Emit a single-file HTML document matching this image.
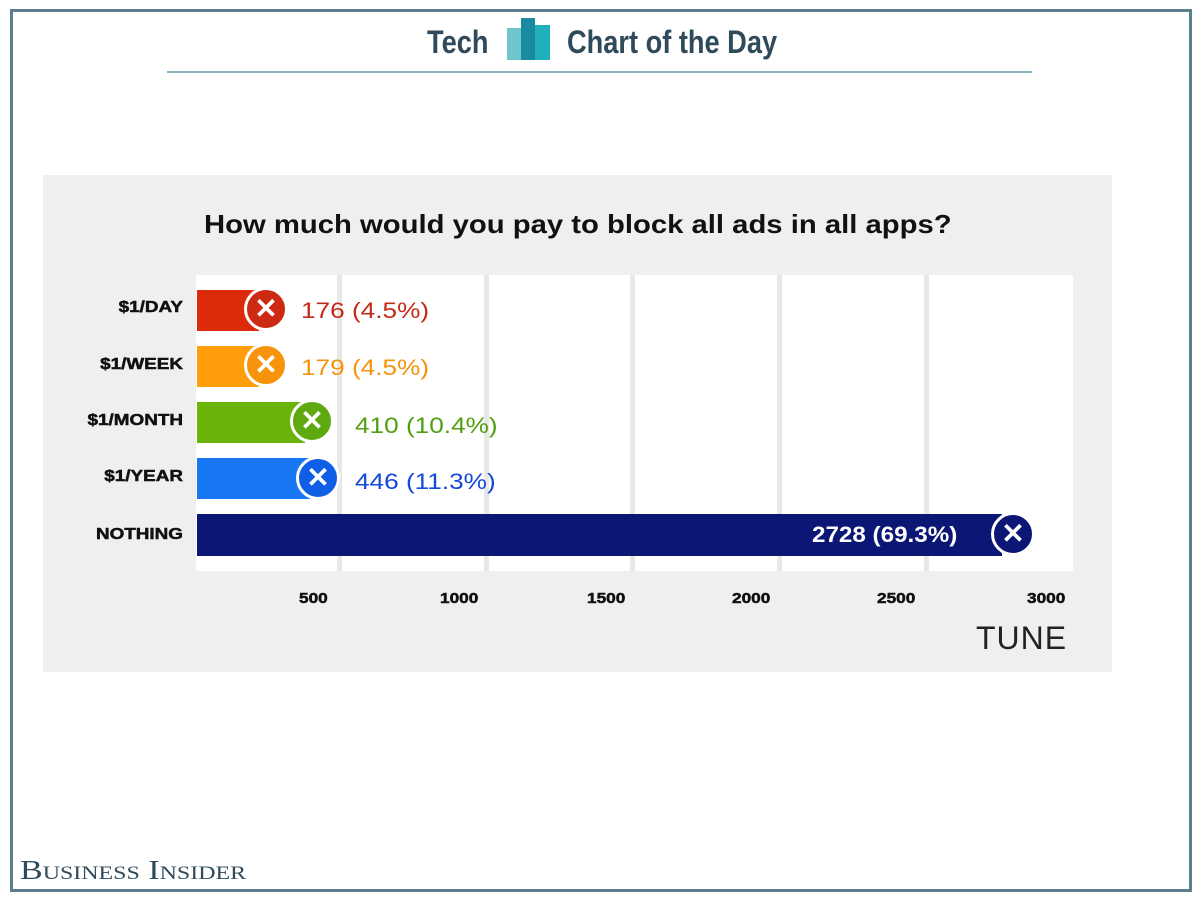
<!DOCTYPE html>
<html><head><meta charset="utf-8"><style>
body{margin:0;width:1200px;height:900px;background:#fff;position:relative;overflow:hidden;font-family:"Liberation Sans",sans-serif}
.a{position:absolute}
.hdr{font-weight:bold;color:#2f4a5b;font-size:32px;top:24px;transform:scaleX(0.85);transform-origin:left top;white-space:nowrap}
.lab{font-weight:900;font-size:16px;color:#111;white-space:nowrap;-webkit-text-stroke:0.5px #111;transform:scaleX(1.18);transform-origin:right top;text-align:right;width:200px;left:-17px}
.bar{left:197px;height:41px}
.c{width:38px;height:38px;border-radius:50%;border:3px solid #fff;color:#fff;font-weight:bold;font-size:28px;line-height:38px;text-align:center}
.v{font-size:22px;white-space:nowrap;transform:scaleX(1.19);transform-origin:left top}
.g{width:5px;top:275px;height:296px;background:#e8e8e6}
.t{top:590px;font-weight:900;font-size:15px;color:#111;-webkit-text-stroke:0.5px #111;transform:scaleX(1.15);transform-origin:left top}
</style></head><body>
<div class="a" style="left:10px;top:9px;width:1176px;height:877px;border:3px solid #5b7f8e"></div>
<div class="a hdr" style="left:427px">Tech</div>
<div class="a hdr" style="left:567px">Chart of the Day</div>
<div class="a" style="left:507px;top:28px;width:16px;height:32px;background:#6ec6cc"></div>
<div class="a" style="left:521px;top:18px;width:14px;height:42px;background:#1a8aa0"></div>
<div class="a" style="left:535px;top:25px;width:15px;height:35px;background:#20b0bd"></div>
<div class="a" style="left:167px;top:71px;width:865px;height:2px;background:#8eb3c0"></div>

<div class="a" style="left:43px;top:175px;width:1069px;height:497px;background:#efefed"></div>
<div class="a" style="left:204px;top:209px;font-weight:bold;font-size:26px;color:#111;white-space:nowrap;transform:scaleX(1.125);transform-origin:left top">How much would you pay to block all ads in all apps?</div>
<div class="a" style="left:196px;top:275px;width:877px;height:296px;background:#fff"></div>
<div class="a g" style="left:337px"></div>
<div class="a g" style="left:484px"></div>
<div class="a g" style="left:630px"></div>
<div class="a g" style="left:777px"></div>
<div class="a g" style="left:924px"></div>

<div class="a lab" style="top:299px">$1/DAY</div>
<div class="a lab" style="top:356px">$1/WEEK</div>
<div class="a lab" style="top:412px">$1/MONTH</div>
<div class="a lab" style="top:468px">$1/YEAR</div>
<div class="a lab" style="top:526px">NOTHING</div>

<div class="a bar" style="top:290px;width:62px;background:#dd2a0a"></div>
<div class="a c" style="left:244px;top:287px;background:#cc2a12">✕</div>
<div class="a v" style="left:301px;top:298px;color:#c42a18">176 (4.5%)</div>

<div class="a bar" style="top:346px;width:62px;background:#ff9d0a"></div>
<div class="a c" style="left:244px;top:343px;background:#f7940c">✕</div>
<div class="a v" style="left:301px;top:355px;color:#f5920e">179 (4.5%)</div>

<div class="a bar" style="top:402px;width:108px;background:#6ab40a"></div>
<div class="a c" style="left:290px;top:399px;background:#5ea910">✕</div>
<div class="a v" style="left:355px;top:413px;color:#4fa00e">410 (10.4%)</div>

<div class="a bar" style="top:458px;width:114px;background:#1877f5"></div>
<div class="a c" style="left:296px;top:456px;background:#0f5fe6">✕</div>
<div class="a v" style="left:355px;top:469px;color:#1648d9">446 (11.3%)</div>

<div class="a bar" style="top:514px;width:805px;height:42px;background:#0c1675"></div>
<div class="a c" style="left:991px;top:512px;background:#0c1675">✕</div>
<div class="a v" style="left:812px;top:522px;color:#fff;font-weight:bold;transform:scaleX(1.1)">2728 (69.3%)</div>

<div class="a t" style="left:299px">500</div>
<div class="a t" style="left:440px">1000</div>
<div class="a t" style="left:587px">1500</div>
<div class="a t" style="left:732px">2000</div>
<div class="a t" style="left:877px">2500</div>
<div class="a t" style="left:1027px">3000</div>
<div class="a" style="left:976px;top:620px;font-size:32px;letter-spacing:1px;color:#222">TUNE</div>

<div class="a" style="left:20px;top:855px;font-family:'Liberation Serif',serif;font-size:27px;color:#2f4a5b;font-variant:small-caps;white-space:nowrap;transform:scaleX(1.26);transform-origin:left top">Business Insider</div>
</body></html>
